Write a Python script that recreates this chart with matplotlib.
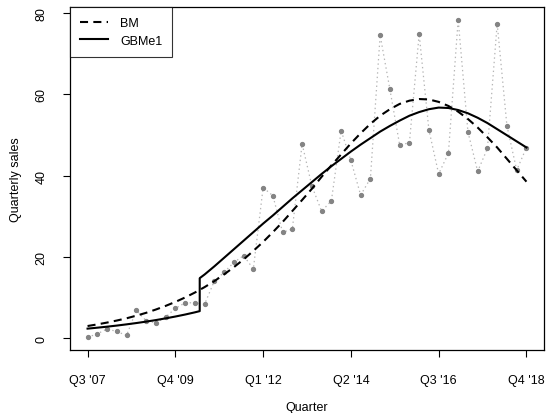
import matplotlib
matplotlib.use("Agg")
import matplotlib.pyplot as plt

plt.rcParams['font.family'] = ['Liberation Sans', 'DejaVu Sans']
plt.rcParams['lines.scale_dashes'] = False

# Quarterly sales (observed)
sales = [0.27, 1.12, 2.32, 1.70, 0.72, 6.89, 4.36, 3.79, 5.21, 7.37,
         8.74, 8.75, 8.40, 14.10, 16.24, 18.65, 20.34, 17.07, 37.04, 35.06,
         26.03, 26.91, 47.79, 37.43, 31.24, 33.80, 51.03, 43.72, 35.20, 39.27,
         74.47, 61.17, 47.53, 48.05, 74.78, 51.19, 40.40, 45.51, 78.29, 50.76,
         41.03, 46.68, 77.32, 52.22, 41.30, 46.89]

# Fitted Bass model (one value per quarter)
bm = [3.04, 3.44, 3.89, 4.39, 4.94, 5.58, 6.28, 7.09, 7.98, 8.96,
      10.05, 11.26, 12.6, 14.07, 15.72, 17.5, 19.4, 21.5, 23.7, 26.1,
      28.6, 31.3, 34.0, 36.75, 39.7, 42.5, 45.2, 47.9, 50.4, 52.7,
      54.7, 56.3, 57.6, 58.4, 58.8, 58.7, 58.1, 57.1, 55.7, 53.9,
      51.8, 49.4, 46.9, 44.1, 41.3, 38.5]

# Generalized Bass model with shock
gbm_x = [0, 1, 2, 3, 4, 5, 6, 7, 8, 9, 10, 11, 11.5,
         11.5, 12, 13, 14, 15, 16, 17, 18, 19, 20, 21, 22, 23, 24, 25,
         26, 27, 28, 29, 30, 31, 32, 33, 34, 35, 36, 37, 38, 39, 40, 41, 42,
         43, 44, 45]
gbm_y = [2.4, 2.63, 2.88, 3.15, 3.45, 3.77, 4.12, 4.5, 4.92, 5.37, 5.86, 6.4, 6.7,
         14.8, 15.7, 17.7, 19.8, 21.9, 24.0, 26.1, 28.2, 30.2, 32.3, 34.4, 36.4,
         38.4, 40.4, 42.3,
         44.1, 45.9, 47.6, 49.2, 50.8, 52.2, 53.5, 54.7, 55.6, 56.3, 56.7,
         56.6, 56.1, 55.3, 54.2, 52.9, 51.4, 49.9, 48.4, 46.9]

tick_pos = [0, 9, 18, 27, 36, 45]
tick_labels = ["Q3 '07", "Q4 '09", "Q1 '12", "Q2 '14", "Q3 '16", "Q4 '18"]
y_ticks = [0, 20, 40, 60, 80]

fig = plt.figure(figsize=(5.48, 4.14), dpi=100)
ax = fig.add_axes([70/548, 1-351/414, (544-70)/548, (351-8)/414])

quarters = list(range(len(sales)))
ax.plot(quarters, sales, color='#b5b5b5', linestyle=(0, (1.0, 2.2)), linewidth=0.9, zorder=1)
ax.plot(quarters, sales, linestyle='none', marker='o', markersize=2.8,
        markerfacecolor='#848484', markeredgecolor='#848484', zorder=2)
ax.plot(quarters, bm, color='black', linewidth=1.5, linestyle=(0, (5.8, 3.8)),
        label='BM', zorder=3)
ax.plot(gbm_x, gbm_y, color='black', linewidth=1.5, label='GBMe1', zorder=3)

ax.set_xlim(-1.8, 46.8)
ax.set_ylim(-2.85, 81.41)
ax.set_xticks(tick_pos)
ax.set_xticklabels(tick_labels)
ax.set_yticks(y_ticks)
ax.set_yticklabels([str(v) for v in y_ticks], rotation=90, va='center')
ax.tick_params(direction='out', length=5, width=0.8, labelsize=9)
ax.tick_params(axis='x', pad=12)
ax.tick_params(axis='y', pad=11)
for s in ax.spines.values():
    s.set_linewidth(0.9)

ax.set_xlabel('Quarter', fontsize=9, labelpad=11)
ax.set_ylabel('Quarterly sales', fontsize=9, labelpad=10)

leg = ax.legend(loc='upper left', fontsize=9, frameon=True, fancybox=False,
                borderaxespad=0, handlelength=2.2, borderpad=0.8,
                labelspacing=0.45, handletextpad=1.0)
leg.get_frame().set_edgecolor('black')
leg.get_frame().set_linewidth(0.8)

fig.savefig('out.png', dpi=100)
